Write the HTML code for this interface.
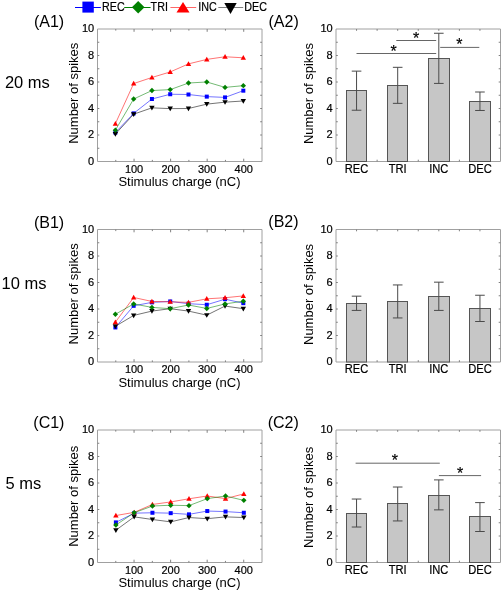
<!DOCTYPE html><html><head><meta charset="utf-8"><style>html,body{margin:0;padding:0;background:#fff;}svg{display:block;will-change:transform;}text{font-family:"Liberation Sans", sans-serif;fill:#000;} .b{stroke:#000;stroke-width:0.2px;}</style></head><body>
<svg width="502" height="591" viewBox="0 0 502 591">
<rect width="502" height="591" fill="#fff"/>
<line x1="75.0" y1="7.5" x2="100.9" y2="7.5" stroke="#0000ff" stroke-width="1"/>
<text x="0" y="0" font-size="12.2" text-anchor="start" transform="translate(102.10 10.90) scale(0.88 1)" class="b">REC</text>
<line x1="124.2" y1="7.5" x2="150.6" y2="7.5" stroke="#008000" stroke-width="1"/>
<text x="0" y="0" font-size="12.2" text-anchor="start" transform="translate(150.60 10.90) scale(0.88 1)" class="b">TRI</text>
<line x1="170.4" y1="7.5" x2="196.2" y2="7.5" stroke="#ff0000" stroke-width="0.6"/>
<text x="0" y="0" font-size="12.2" text-anchor="start" transform="translate(198.20 10.90) scale(0.88 1)" class="b">INC</text>
<line x1="218.3" y1="7.5" x2="243.2" y2="7.5" stroke="#000000" stroke-width="0.5"/>
<text x="0" y="0" font-size="12.2" text-anchor="start" transform="translate(244.30 10.90) scale(0.88 1)" class="b">DEC</text>
<rect x="82.4" y="1.6" width="11.4" height="11.0" fill="#0000ff"/>
<polygon points="138.2,0.9 144.5,7.2 138.2,13.5 131.9,7.2" fill="#008000"/>
<polygon points="183.0,1.9 189.5,12.6 176.5,12.6" fill="#ff0000"/>
<polygon points="224.3,3.1 236.7,3.1 230.5,14.1" fill="#000000"/>
<line x1="97.5" y1="29.0" x2="262.0" y2="29.0" stroke="#a0a0a0" stroke-width="1"/>
<line x1="262.0" y1="29.0" x2="262.0" y2="161.5" stroke="#a0a0a0" stroke-width="1"/>
<line x1="97.5" y1="161.5" x2="262.0" y2="161.5" stroke="#a0a0a0" stroke-width="1"/>
<line x1="97.5" y1="29.0" x2="97.5" y2="161.5" stroke="#a0a0a0" stroke-width="1"/>
<line x1="115.78" y1="161.5" x2="115.78" y2="159.9" stroke="#808080" stroke-width="1"/>
<line x1="115.78" y1="29.0" x2="115.78" y2="30.6" stroke="#808080" stroke-width="1"/>
<line x1="134.06" y1="161.5" x2="134.06" y2="158.7" stroke="#808080" stroke-width="1"/>
<line x1="134.06" y1="29.0" x2="134.06" y2="31.8" stroke="#808080" stroke-width="1"/>
<line x1="152.33" y1="161.5" x2="152.33" y2="159.9" stroke="#808080" stroke-width="1"/>
<line x1="152.33" y1="29.0" x2="152.33" y2="30.6" stroke="#808080" stroke-width="1"/>
<line x1="170.61" y1="161.5" x2="170.61" y2="158.7" stroke="#808080" stroke-width="1"/>
<line x1="170.61" y1="29.0" x2="170.61" y2="31.8" stroke="#808080" stroke-width="1"/>
<line x1="188.89" y1="161.5" x2="188.89" y2="159.9" stroke="#808080" stroke-width="1"/>
<line x1="188.89" y1="29.0" x2="188.89" y2="30.6" stroke="#808080" stroke-width="1"/>
<line x1="207.17" y1="161.5" x2="207.17" y2="158.7" stroke="#808080" stroke-width="1"/>
<line x1="207.17" y1="29.0" x2="207.17" y2="31.8" stroke="#808080" stroke-width="1"/>
<line x1="225.44" y1="161.5" x2="225.44" y2="159.9" stroke="#808080" stroke-width="1"/>
<line x1="225.44" y1="29.0" x2="225.44" y2="30.6" stroke="#808080" stroke-width="1"/>
<line x1="243.72" y1="161.5" x2="243.72" y2="158.7" stroke="#808080" stroke-width="1"/>
<line x1="243.72" y1="29.0" x2="243.72" y2="31.8" stroke="#808080" stroke-width="1"/>
<line x1="97.5" y1="148.25" x2="99.3" y2="148.25" stroke="#808080" stroke-width="1"/>
<line x1="262.0" y1="148.25" x2="260.2" y2="148.25" stroke="#808080" stroke-width="1"/>
<line x1="97.5" y1="135.00" x2="99.3" y2="135.00" stroke="#808080" stroke-width="1"/>
<line x1="262.0" y1="135.00" x2="260.2" y2="135.00" stroke="#808080" stroke-width="1"/>
<line x1="97.5" y1="121.75" x2="99.3" y2="121.75" stroke="#808080" stroke-width="1"/>
<line x1="262.0" y1="121.75" x2="260.2" y2="121.75" stroke="#808080" stroke-width="1"/>
<line x1="97.5" y1="108.50" x2="99.3" y2="108.50" stroke="#808080" stroke-width="1"/>
<line x1="262.0" y1="108.50" x2="260.2" y2="108.50" stroke="#808080" stroke-width="1"/>
<line x1="97.5" y1="95.25" x2="99.3" y2="95.25" stroke="#808080" stroke-width="1"/>
<line x1="262.0" y1="95.25" x2="260.2" y2="95.25" stroke="#808080" stroke-width="1"/>
<line x1="97.5" y1="82.00" x2="99.3" y2="82.00" stroke="#808080" stroke-width="1"/>
<line x1="262.0" y1="82.00" x2="260.2" y2="82.00" stroke="#808080" stroke-width="1"/>
<line x1="97.5" y1="68.75" x2="99.3" y2="68.75" stroke="#808080" stroke-width="1"/>
<line x1="262.0" y1="68.75" x2="260.2" y2="68.75" stroke="#808080" stroke-width="1"/>
<line x1="97.5" y1="55.50" x2="99.3" y2="55.50" stroke="#808080" stroke-width="1"/>
<line x1="262.0" y1="55.50" x2="260.2" y2="55.50" stroke="#808080" stroke-width="1"/>
<line x1="97.5" y1="42.25" x2="99.3" y2="42.25" stroke="#808080" stroke-width="1"/>
<line x1="262.0" y1="42.25" x2="260.2" y2="42.25" stroke="#808080" stroke-width="1"/>
<text x="94.20" y="164.80" font-size="11" text-anchor="end" class="b">0</text>
<text x="94.20" y="138.30" font-size="11" text-anchor="end" class="b">2</text>
<text x="94.20" y="111.80" font-size="11" text-anchor="end" class="b">4</text>
<text x="94.20" y="85.30" font-size="11" text-anchor="end" class="b">6</text>
<text x="94.20" y="58.80" font-size="11" text-anchor="end" class="b">8</text>
<text x="94.20" y="32.30" font-size="11" text-anchor="end" class="b">10</text>
<text x="134.06" y="172.90" font-size="11" text-anchor="middle" class="b">100</text>
<text x="170.61" y="172.90" font-size="11" text-anchor="middle" class="b">200</text>
<text x="207.17" y="172.90" font-size="11" text-anchor="middle" class="b">300</text>
<text x="243.72" y="172.90" font-size="11" text-anchor="middle" class="b">400</text>
<text x="179.50" y="186.30" font-size="13" text-anchor="middle" >Stimulus charge (nC)</text>
<text x="0" y="0" font-size="13" text-anchor="middle" transform="translate(78.0 93.25) rotate(-90) scale(1 1.03)">Number of spikes</text>
<polyline points="115.38,132.52 133.66,113.38 151.93,99.00 170.21,94.24 188.49,94.51 206.77,96.62 225.04,97.41 243.32,90.68" fill="none" stroke="#0000ff" stroke-width="0.55"/>
<rect x="113.38" y="130.52" width="4.00" height="4.00" fill="#0000ff"/>
<rect x="131.66" y="111.38" width="4.00" height="4.00" fill="#0000ff"/>
<rect x="149.93" y="97.00" width="4.00" height="4.00" fill="#0000ff"/>
<rect x="168.21" y="92.24" width="4.00" height="4.00" fill="#0000ff"/>
<rect x="186.49" y="92.51" width="4.00" height="4.00" fill="#0000ff"/>
<rect x="204.77" y="94.62" width="4.00" height="4.00" fill="#0000ff"/>
<rect x="223.04" y="95.41" width="4.00" height="4.00" fill="#0000ff"/>
<rect x="241.32" y="88.68" width="4.00" height="4.00" fill="#0000ff"/>
<polyline points="115.38,134.11 133.66,114.18 151.93,107.84 170.21,108.63 188.49,108.50 206.77,104.14 225.04,102.16 243.32,100.98" fill="none" stroke="#000000" stroke-width="0.55"/>
<polygon points="115.38,136.81 118.08,132.08 112.68,132.08" fill="#000000"/>
<polygon points="133.66,116.88 136.36,112.15 130.96,112.15" fill="#000000"/>
<polygon points="151.93,110.54 154.63,105.82 149.23,105.82" fill="#000000"/>
<polygon points="170.21,111.33 172.91,106.61 167.51,106.61" fill="#000000"/>
<polygon points="188.49,111.20 191.19,106.48 185.79,106.48" fill="#000000"/>
<polygon points="206.77,106.84 209.47,102.12 204.07,102.12" fill="#000000"/>
<polygon points="225.04,104.86 227.74,100.14 222.34,100.14" fill="#000000"/>
<polygon points="243.32,103.68 246.02,98.95 240.62,98.95" fill="#000000"/>
<polyline points="115.38,123.68 133.66,83.55 151.93,77.48 170.21,71.94 188.49,63.88 206.77,59.40 225.04,56.76 243.32,57.81" fill="none" stroke="#ff0000" stroke-width="0.55"/>
<polygon points="115.38,120.98 118.08,125.71 112.68,125.71" fill="#ff0000"/>
<polygon points="133.66,80.85 136.36,85.58 130.96,85.58" fill="#ff0000"/>
<polygon points="151.93,74.78 154.63,79.51 149.23,79.51" fill="#ff0000"/>
<polygon points="170.21,69.24 172.91,73.96 167.51,73.96" fill="#ff0000"/>
<polygon points="188.49,61.18 191.19,65.91 185.79,65.91" fill="#ff0000"/>
<polygon points="206.77,56.70 209.47,61.42 204.07,61.42" fill="#ff0000"/>
<polygon points="225.04,54.06 227.74,58.78 222.34,58.78" fill="#ff0000"/>
<polygon points="243.32,55.11 246.02,59.84 240.62,59.84" fill="#ff0000"/>
<polyline points="115.38,130.15 133.66,99.00 151.93,90.55 170.21,89.62 188.49,83.02 206.77,81.97 225.04,87.38 243.32,85.66" fill="none" stroke="#008000" stroke-width="0.55"/>
<polygon points="115.38,127.45 118.08,130.15 115.38,132.85 112.68,130.15" fill="#008000"/>
<polygon points="133.66,96.30 136.36,99.00 133.66,101.70 130.96,99.00" fill="#008000"/>
<polygon points="151.93,87.85 154.63,90.55 151.93,93.25 149.23,90.55" fill="#008000"/>
<polygon points="170.21,86.92 172.91,89.62 170.21,92.32 167.51,89.62" fill="#008000"/>
<polygon points="188.49,80.32 191.19,83.02 188.49,85.72 185.79,83.02" fill="#008000"/>
<polygon points="206.77,79.27 209.47,81.97 206.77,84.67 204.07,81.97" fill="#008000"/>
<polygon points="225.04,84.68 227.74,87.38 225.04,90.08 222.34,87.38" fill="#008000"/>
<polygon points="243.32,82.96 246.02,85.66 243.32,88.36 240.62,85.66" fill="#008000"/>
<line x1="336.0" y1="29.0" x2="500.5" y2="29.0" stroke="#a0a0a0" stroke-width="1"/>
<line x1="500.5" y1="29.0" x2="500.5" y2="161.5" stroke="#a0a0a0" stroke-width="1"/>
<line x1="336.0" y1="161.5" x2="500.5" y2="161.5" stroke="#a0a0a0" stroke-width="1"/>
<line x1="336.0" y1="29.0" x2="336.0" y2="161.5" stroke="#a0a0a0" stroke-width="1"/>
<line x1="356.56" y1="161.5" x2="356.56" y2="159.7" stroke="#808080" stroke-width="1"/>
<line x1="356.56" y1="29.0" x2="356.56" y2="30.8" stroke="#808080" stroke-width="1"/>
<line x1="377.12" y1="161.5" x2="377.12" y2="159.7" stroke="#808080" stroke-width="1"/>
<line x1="377.12" y1="29.0" x2="377.12" y2="30.8" stroke="#808080" stroke-width="1"/>
<line x1="397.69" y1="161.5" x2="397.69" y2="159.7" stroke="#808080" stroke-width="1"/>
<line x1="397.69" y1="29.0" x2="397.69" y2="30.8" stroke="#808080" stroke-width="1"/>
<line x1="418.25" y1="161.5" x2="418.25" y2="159.7" stroke="#808080" stroke-width="1"/>
<line x1="418.25" y1="29.0" x2="418.25" y2="30.8" stroke="#808080" stroke-width="1"/>
<line x1="438.81" y1="161.5" x2="438.81" y2="159.7" stroke="#808080" stroke-width="1"/>
<line x1="438.81" y1="29.0" x2="438.81" y2="30.8" stroke="#808080" stroke-width="1"/>
<line x1="459.38" y1="161.5" x2="459.38" y2="159.7" stroke="#808080" stroke-width="1"/>
<line x1="459.38" y1="29.0" x2="459.38" y2="30.8" stroke="#808080" stroke-width="1"/>
<line x1="479.94" y1="161.5" x2="479.94" y2="159.7" stroke="#808080" stroke-width="1"/>
<line x1="479.94" y1="29.0" x2="479.94" y2="30.8" stroke="#808080" stroke-width="1"/>
<line x1="336.0" y1="148.25" x2="337.8" y2="148.25" stroke="#808080" stroke-width="1"/>
<line x1="500.5" y1="148.25" x2="498.7" y2="148.25" stroke="#808080" stroke-width="1"/>
<line x1="336.0" y1="135.00" x2="337.8" y2="135.00" stroke="#808080" stroke-width="1"/>
<line x1="500.5" y1="135.00" x2="498.7" y2="135.00" stroke="#808080" stroke-width="1"/>
<line x1="336.0" y1="121.75" x2="337.8" y2="121.75" stroke="#808080" stroke-width="1"/>
<line x1="500.5" y1="121.75" x2="498.7" y2="121.75" stroke="#808080" stroke-width="1"/>
<line x1="336.0" y1="108.50" x2="337.8" y2="108.50" stroke="#808080" stroke-width="1"/>
<line x1="500.5" y1="108.50" x2="498.7" y2="108.50" stroke="#808080" stroke-width="1"/>
<line x1="336.0" y1="95.25" x2="337.8" y2="95.25" stroke="#808080" stroke-width="1"/>
<line x1="500.5" y1="95.25" x2="498.7" y2="95.25" stroke="#808080" stroke-width="1"/>
<line x1="336.0" y1="82.00" x2="337.8" y2="82.00" stroke="#808080" stroke-width="1"/>
<line x1="500.5" y1="82.00" x2="498.7" y2="82.00" stroke="#808080" stroke-width="1"/>
<line x1="336.0" y1="68.75" x2="337.8" y2="68.75" stroke="#808080" stroke-width="1"/>
<line x1="500.5" y1="68.75" x2="498.7" y2="68.75" stroke="#808080" stroke-width="1"/>
<line x1="336.0" y1="55.50" x2="337.8" y2="55.50" stroke="#808080" stroke-width="1"/>
<line x1="500.5" y1="55.50" x2="498.7" y2="55.50" stroke="#808080" stroke-width="1"/>
<line x1="336.0" y1="42.25" x2="337.8" y2="42.25" stroke="#808080" stroke-width="1"/>
<line x1="500.5" y1="42.25" x2="498.7" y2="42.25" stroke="#808080" stroke-width="1"/>
<text x="332.70" y="164.80" font-size="11" text-anchor="end" class="b">0</text>
<text x="332.70" y="138.30" font-size="11" text-anchor="end" class="b">2</text>
<text x="332.70" y="111.80" font-size="11" text-anchor="end" class="b">4</text>
<text x="332.70" y="85.30" font-size="11" text-anchor="end" class="b">6</text>
<text x="332.70" y="58.80" font-size="11" text-anchor="end" class="b">8</text>
<text x="332.70" y="32.30" font-size="11" text-anchor="end" class="b">10</text>
<text x="0" y="0" font-size="13" text-anchor="middle" transform="translate(313.2 93.55) rotate(-90) scale(1 1.03)">Number of spikes</text>
<rect x="346.50" y="90.50" width="20.00" height="71.00" fill="#c6c6c6" stroke="#555555" stroke-width="1"/>
<line x1="356.56" y1="110.22" x2="356.56" y2="71.14" stroke="#4a4a4a" stroke-width="1"/>
<line x1="351.76" y1="110.22" x2="361.36" y2="110.22" stroke="#4a4a4a" stroke-width="1"/>
<line x1="351.76" y1="71.14" x2="361.36" y2="71.14" stroke="#4a4a4a" stroke-width="1"/>
<text x="0" y="0" font-size="12.4" text-anchor="middle" transform="translate(356.56 172.90) scale(0.9 1)" class="b">REC</text>
<rect x="387.50" y="85.50" width="20.00" height="76.00" fill="#c6c6c6" stroke="#555555" stroke-width="1"/>
<line x1="397.69" y1="103.35" x2="397.69" y2="67.32" stroke="#4a4a4a" stroke-width="1"/>
<line x1="392.89" y1="103.35" x2="402.49" y2="103.35" stroke="#4a4a4a" stroke-width="1"/>
<line x1="392.89" y1="67.32" x2="402.49" y2="67.32" stroke="#4a4a4a" stroke-width="1"/>
<text x="0" y="0" font-size="12.4" text-anchor="middle" transform="translate(397.69 172.90) scale(0.9 1)" class="b">TRI</text>
<rect x="428.50" y="58.50" width="21.00" height="103.00" fill="#c6c6c6" stroke="#555555" stroke-width="1"/>
<line x1="438.81" y1="83.42" x2="438.81" y2="33.26" stroke="#4a4a4a" stroke-width="1"/>
<line x1="434.01" y1="83.42" x2="443.61" y2="83.42" stroke="#4a4a4a" stroke-width="1"/>
<line x1="434.01" y1="33.26" x2="443.61" y2="33.26" stroke="#4a4a4a" stroke-width="1"/>
<text x="0" y="0" font-size="12.4" text-anchor="middle" transform="translate(438.81 172.90) scale(0.9 1)" class="b">INC</text>
<rect x="469.50" y="101.50" width="21.00" height="60.00" fill="#c6c6c6" stroke="#555555" stroke-width="1"/>
<line x1="479.94" y1="110.48" x2="479.94" y2="92.00" stroke="#4a4a4a" stroke-width="1"/>
<line x1="475.14" y1="110.48" x2="484.74" y2="110.48" stroke="#4a4a4a" stroke-width="1"/>
<line x1="475.14" y1="92.00" x2="484.74" y2="92.00" stroke="#4a4a4a" stroke-width="1"/>
<text x="0" y="0" font-size="12.4" text-anchor="middle" transform="translate(479.94 172.90) scale(0.9 1)" class="b">DEC</text>
<line x1="356.5" y1="53.5" x2="436.2" y2="53.5" stroke="#666666" stroke-width="1"/>
<text x="393.70" y="56.50" font-size="16" text-anchor="middle" class="b">*</text>
<line x1="396.3" y1="40.5" x2="436.2" y2="40.5" stroke="#666666" stroke-width="1"/>
<text x="416.00" y="43.50" font-size="16" text-anchor="middle" class="b">*</text>
<line x1="440.2" y1="47.4" x2="479.3" y2="47.4" stroke="#666666" stroke-width="1"/>
<text x="459.40" y="50.40" font-size="16" text-anchor="middle" class="b">*</text>
<text x="33.90" y="27.00" font-size="16" text-anchor="start" >(A1)</text>
<text x="268.50" y="27.00" font-size="16" text-anchor="start" >(A2)</text>
<text x="4.90" y="87.95" font-size="16.5" text-anchor="start" >20 ms</text>
<line x1="97.5" y1="229.5" x2="262.0" y2="229.5" stroke="#a0a0a0" stroke-width="1"/>
<line x1="262.0" y1="229.5" x2="262.0" y2="362.0" stroke="#a0a0a0" stroke-width="1"/>
<line x1="97.5" y1="362.0" x2="262.0" y2="362.0" stroke="#a0a0a0" stroke-width="1"/>
<line x1="97.5" y1="229.5" x2="97.5" y2="362.0" stroke="#a0a0a0" stroke-width="1"/>
<line x1="115.78" y1="362.0" x2="115.78" y2="360.4" stroke="#808080" stroke-width="1"/>
<line x1="115.78" y1="229.5" x2="115.78" y2="231.1" stroke="#808080" stroke-width="1"/>
<line x1="134.06" y1="362.0" x2="134.06" y2="359.2" stroke="#808080" stroke-width="1"/>
<line x1="134.06" y1="229.5" x2="134.06" y2="232.3" stroke="#808080" stroke-width="1"/>
<line x1="152.33" y1="362.0" x2="152.33" y2="360.4" stroke="#808080" stroke-width="1"/>
<line x1="152.33" y1="229.5" x2="152.33" y2="231.1" stroke="#808080" stroke-width="1"/>
<line x1="170.61" y1="362.0" x2="170.61" y2="359.2" stroke="#808080" stroke-width="1"/>
<line x1="170.61" y1="229.5" x2="170.61" y2="232.3" stroke="#808080" stroke-width="1"/>
<line x1="188.89" y1="362.0" x2="188.89" y2="360.4" stroke="#808080" stroke-width="1"/>
<line x1="188.89" y1="229.5" x2="188.89" y2="231.1" stroke="#808080" stroke-width="1"/>
<line x1="207.17" y1="362.0" x2="207.17" y2="359.2" stroke="#808080" stroke-width="1"/>
<line x1="207.17" y1="229.5" x2="207.17" y2="232.3" stroke="#808080" stroke-width="1"/>
<line x1="225.44" y1="362.0" x2="225.44" y2="360.4" stroke="#808080" stroke-width="1"/>
<line x1="225.44" y1="229.5" x2="225.44" y2="231.1" stroke="#808080" stroke-width="1"/>
<line x1="243.72" y1="362.0" x2="243.72" y2="359.2" stroke="#808080" stroke-width="1"/>
<line x1="243.72" y1="229.5" x2="243.72" y2="232.3" stroke="#808080" stroke-width="1"/>
<line x1="97.5" y1="348.75" x2="99.3" y2="348.75" stroke="#808080" stroke-width="1"/>
<line x1="262.0" y1="348.75" x2="260.2" y2="348.75" stroke="#808080" stroke-width="1"/>
<line x1="97.5" y1="335.50" x2="99.3" y2="335.50" stroke="#808080" stroke-width="1"/>
<line x1="262.0" y1="335.50" x2="260.2" y2="335.50" stroke="#808080" stroke-width="1"/>
<line x1="97.5" y1="322.25" x2="99.3" y2="322.25" stroke="#808080" stroke-width="1"/>
<line x1="262.0" y1="322.25" x2="260.2" y2="322.25" stroke="#808080" stroke-width="1"/>
<line x1="97.5" y1="309.00" x2="99.3" y2="309.00" stroke="#808080" stroke-width="1"/>
<line x1="262.0" y1="309.00" x2="260.2" y2="309.00" stroke="#808080" stroke-width="1"/>
<line x1="97.5" y1="295.75" x2="99.3" y2="295.75" stroke="#808080" stroke-width="1"/>
<line x1="262.0" y1="295.75" x2="260.2" y2="295.75" stroke="#808080" stroke-width="1"/>
<line x1="97.5" y1="282.50" x2="99.3" y2="282.50" stroke="#808080" stroke-width="1"/>
<line x1="262.0" y1="282.50" x2="260.2" y2="282.50" stroke="#808080" stroke-width="1"/>
<line x1="97.5" y1="269.25" x2="99.3" y2="269.25" stroke="#808080" stroke-width="1"/>
<line x1="262.0" y1="269.25" x2="260.2" y2="269.25" stroke="#808080" stroke-width="1"/>
<line x1="97.5" y1="256.00" x2="99.3" y2="256.00" stroke="#808080" stroke-width="1"/>
<line x1="262.0" y1="256.00" x2="260.2" y2="256.00" stroke="#808080" stroke-width="1"/>
<line x1="97.5" y1="242.75" x2="99.3" y2="242.75" stroke="#808080" stroke-width="1"/>
<line x1="262.0" y1="242.75" x2="260.2" y2="242.75" stroke="#808080" stroke-width="1"/>
<text x="94.20" y="365.30" font-size="11" text-anchor="end" class="b">0</text>
<text x="94.20" y="338.80" font-size="11" text-anchor="end" class="b">2</text>
<text x="94.20" y="312.30" font-size="11" text-anchor="end" class="b">4</text>
<text x="94.20" y="285.80" font-size="11" text-anchor="end" class="b">6</text>
<text x="94.20" y="259.30" font-size="11" text-anchor="end" class="b">8</text>
<text x="94.20" y="232.80" font-size="11" text-anchor="end" class="b">10</text>
<text x="134.06" y="373.40" font-size="11" text-anchor="middle" class="b">100</text>
<text x="170.61" y="373.40" font-size="11" text-anchor="middle" class="b">200</text>
<text x="207.17" y="373.40" font-size="11" text-anchor="middle" class="b">300</text>
<text x="243.72" y="373.40" font-size="11" text-anchor="middle" class="b">400</text>
<text x="179.50" y="386.80" font-size="13" text-anchor="middle" >Stimulus charge (nC)</text>
<text x="0" y="0" font-size="13" text-anchor="middle" transform="translate(78.0 293.85) rotate(-90) scale(1 1.03)">Number of spikes</text>
<polyline points="115.38,327.44 133.66,305.80 151.93,302.36 170.21,301.44 188.49,303.68 206.77,304.74 225.04,299.20 243.32,303.16" fill="none" stroke="#0000ff" stroke-width="0.55"/>
<rect x="113.38" y="325.44" width="4.00" height="4.00" fill="#0000ff"/>
<rect x="131.66" y="303.80" width="4.00" height="4.00" fill="#0000ff"/>
<rect x="149.93" y="300.36" width="4.00" height="4.00" fill="#0000ff"/>
<rect x="168.21" y="299.44" width="4.00" height="4.00" fill="#0000ff"/>
<rect x="186.49" y="301.68" width="4.00" height="4.00" fill="#0000ff"/>
<rect x="204.77" y="302.74" width="4.00" height="4.00" fill="#0000ff"/>
<rect x="223.04" y="297.20" width="4.00" height="4.00" fill="#0000ff"/>
<rect x="241.32" y="301.16" width="4.00" height="4.00" fill="#0000ff"/>
<polyline points="115.38,326.26 133.66,315.43 151.93,311.08 170.21,308.70 188.49,311.08 206.77,315.17 225.04,306.06 243.32,308.70" fill="none" stroke="#000000" stroke-width="0.55"/>
<polygon points="115.38,328.96 118.08,324.23 112.68,324.23" fill="#000000"/>
<polygon points="133.66,318.13 136.36,313.41 130.96,313.41" fill="#000000"/>
<polygon points="151.93,313.78 154.63,309.05 149.23,309.05" fill="#000000"/>
<polygon points="170.21,311.40 172.91,306.68 167.51,306.68" fill="#000000"/>
<polygon points="188.49,313.78 191.19,309.05 185.79,309.05" fill="#000000"/>
<polygon points="206.77,317.87 209.47,313.14 204.07,313.14" fill="#000000"/>
<polygon points="225.04,308.76 227.74,304.04 222.34,304.04" fill="#000000"/>
<polygon points="243.32,311.40 246.02,306.68 240.62,306.68" fill="#000000"/>
<polyline points="115.38,322.16 133.66,297.48 151.93,301.44 170.21,301.84 188.49,302.36 206.77,298.80 225.04,297.74 243.32,295.90" fill="none" stroke="#ff0000" stroke-width="0.55"/>
<polygon points="115.38,319.46 118.08,324.19 112.68,324.19" fill="#ff0000"/>
<polygon points="133.66,294.78 136.36,299.50 130.96,299.50" fill="#ff0000"/>
<polygon points="151.93,298.74 154.63,303.46 149.23,303.46" fill="#ff0000"/>
<polygon points="170.21,299.14 172.91,303.86 167.51,303.86" fill="#ff0000"/>
<polygon points="188.49,299.66 191.19,304.39 185.79,304.39" fill="#ff0000"/>
<polygon points="206.77,296.10 209.47,300.82 204.07,300.82" fill="#ff0000"/>
<polygon points="225.04,295.04 227.74,299.77 222.34,299.77" fill="#ff0000"/>
<polygon points="243.32,293.20 246.02,297.92 240.62,297.92" fill="#ff0000"/>
<polyline points="115.38,314.24 133.66,303.95 151.93,307.38 170.21,308.70 188.49,305.00 206.77,308.44 225.04,303.95 243.32,301.18" fill="none" stroke="#008000" stroke-width="0.55"/>
<polygon points="115.38,311.54 118.08,314.24 115.38,316.94 112.68,314.24" fill="#008000"/>
<polygon points="133.66,301.25 136.36,303.95 133.66,306.65 130.96,303.95" fill="#008000"/>
<polygon points="151.93,304.68 154.63,307.38 151.93,310.08 149.23,307.38" fill="#008000"/>
<polygon points="170.21,306.00 172.91,308.70 170.21,311.40 167.51,308.70" fill="#008000"/>
<polygon points="188.49,302.30 191.19,305.00 188.49,307.70 185.79,305.00" fill="#008000"/>
<polygon points="206.77,305.74 209.47,308.44 206.77,311.14 204.07,308.44" fill="#008000"/>
<polygon points="225.04,301.25 227.74,303.95 225.04,306.65 222.34,303.95" fill="#008000"/>
<polygon points="243.32,298.48 246.02,301.18 243.32,303.88 240.62,301.18" fill="#008000"/>
<line x1="336.0" y1="229.5" x2="500.5" y2="229.5" stroke="#a0a0a0" stroke-width="1"/>
<line x1="500.5" y1="229.5" x2="500.5" y2="362.0" stroke="#a0a0a0" stroke-width="1"/>
<line x1="336.0" y1="362.0" x2="500.5" y2="362.0" stroke="#a0a0a0" stroke-width="1"/>
<line x1="336.0" y1="229.5" x2="336.0" y2="362.0" stroke="#a0a0a0" stroke-width="1"/>
<line x1="356.56" y1="362.0" x2="356.56" y2="360.2" stroke="#808080" stroke-width="1"/>
<line x1="356.56" y1="229.5" x2="356.56" y2="231.3" stroke="#808080" stroke-width="1"/>
<line x1="377.12" y1="362.0" x2="377.12" y2="360.2" stroke="#808080" stroke-width="1"/>
<line x1="377.12" y1="229.5" x2="377.12" y2="231.3" stroke="#808080" stroke-width="1"/>
<line x1="397.69" y1="362.0" x2="397.69" y2="360.2" stroke="#808080" stroke-width="1"/>
<line x1="397.69" y1="229.5" x2="397.69" y2="231.3" stroke="#808080" stroke-width="1"/>
<line x1="418.25" y1="362.0" x2="418.25" y2="360.2" stroke="#808080" stroke-width="1"/>
<line x1="418.25" y1="229.5" x2="418.25" y2="231.3" stroke="#808080" stroke-width="1"/>
<line x1="438.81" y1="362.0" x2="438.81" y2="360.2" stroke="#808080" stroke-width="1"/>
<line x1="438.81" y1="229.5" x2="438.81" y2="231.3" stroke="#808080" stroke-width="1"/>
<line x1="459.38" y1="362.0" x2="459.38" y2="360.2" stroke="#808080" stroke-width="1"/>
<line x1="459.38" y1="229.5" x2="459.38" y2="231.3" stroke="#808080" stroke-width="1"/>
<line x1="479.94" y1="362.0" x2="479.94" y2="360.2" stroke="#808080" stroke-width="1"/>
<line x1="479.94" y1="229.5" x2="479.94" y2="231.3" stroke="#808080" stroke-width="1"/>
<line x1="336.0" y1="348.75" x2="337.8" y2="348.75" stroke="#808080" stroke-width="1"/>
<line x1="500.5" y1="348.75" x2="498.7" y2="348.75" stroke="#808080" stroke-width="1"/>
<line x1="336.0" y1="335.50" x2="337.8" y2="335.50" stroke="#808080" stroke-width="1"/>
<line x1="500.5" y1="335.50" x2="498.7" y2="335.50" stroke="#808080" stroke-width="1"/>
<line x1="336.0" y1="322.25" x2="337.8" y2="322.25" stroke="#808080" stroke-width="1"/>
<line x1="500.5" y1="322.25" x2="498.7" y2="322.25" stroke="#808080" stroke-width="1"/>
<line x1="336.0" y1="309.00" x2="337.8" y2="309.00" stroke="#808080" stroke-width="1"/>
<line x1="500.5" y1="309.00" x2="498.7" y2="309.00" stroke="#808080" stroke-width="1"/>
<line x1="336.0" y1="295.75" x2="337.8" y2="295.75" stroke="#808080" stroke-width="1"/>
<line x1="500.5" y1="295.75" x2="498.7" y2="295.75" stroke="#808080" stroke-width="1"/>
<line x1="336.0" y1="282.50" x2="337.8" y2="282.50" stroke="#808080" stroke-width="1"/>
<line x1="500.5" y1="282.50" x2="498.7" y2="282.50" stroke="#808080" stroke-width="1"/>
<line x1="336.0" y1="269.25" x2="337.8" y2="269.25" stroke="#808080" stroke-width="1"/>
<line x1="500.5" y1="269.25" x2="498.7" y2="269.25" stroke="#808080" stroke-width="1"/>
<line x1="336.0" y1="256.00" x2="337.8" y2="256.00" stroke="#808080" stroke-width="1"/>
<line x1="500.5" y1="256.00" x2="498.7" y2="256.00" stroke="#808080" stroke-width="1"/>
<line x1="336.0" y1="242.75" x2="337.8" y2="242.75" stroke="#808080" stroke-width="1"/>
<line x1="500.5" y1="242.75" x2="498.7" y2="242.75" stroke="#808080" stroke-width="1"/>
<text x="332.70" y="365.30" font-size="11" text-anchor="end" class="b">0</text>
<text x="332.70" y="338.80" font-size="11" text-anchor="end" class="b">2</text>
<text x="332.70" y="312.30" font-size="11" text-anchor="end" class="b">4</text>
<text x="332.70" y="285.80" font-size="11" text-anchor="end" class="b">6</text>
<text x="332.70" y="259.30" font-size="11" text-anchor="end" class="b">8</text>
<text x="332.70" y="232.80" font-size="11" text-anchor="end" class="b">10</text>
<text x="0" y="0" font-size="13" text-anchor="middle" transform="translate(313.2 294.45) rotate(-90) scale(1 1.03)">Number of spikes</text>
<rect x="346.50" y="303.50" width="20.00" height="58.50" fill="#c6c6c6" stroke="#555555" stroke-width="1"/>
<line x1="356.56" y1="310.42" x2="356.56" y2="296.16" stroke="#4a4a4a" stroke-width="1"/>
<line x1="351.76" y1="310.42" x2="361.36" y2="310.42" stroke="#4a4a4a" stroke-width="1"/>
<line x1="351.76" y1="296.16" x2="361.36" y2="296.16" stroke="#4a4a4a" stroke-width="1"/>
<text x="0" y="0" font-size="12.4" text-anchor="middle" transform="translate(356.56 373.40) scale(0.9 1)" class="b">REC</text>
<rect x="387.50" y="301.50" width="20.00" height="60.50" fill="#c6c6c6" stroke="#555555" stroke-width="1"/>
<line x1="397.69" y1="317.94" x2="397.69" y2="284.94" stroke="#4a4a4a" stroke-width="1"/>
<line x1="392.89" y1="317.94" x2="402.49" y2="317.94" stroke="#4a4a4a" stroke-width="1"/>
<line x1="392.89" y1="284.94" x2="402.49" y2="284.94" stroke="#4a4a4a" stroke-width="1"/>
<text x="0" y="0" font-size="12.4" text-anchor="middle" transform="translate(397.69 373.40) scale(0.9 1)" class="b">TRI</text>
<rect x="428.50" y="296.50" width="21.00" height="65.50" fill="#c6c6c6" stroke="#555555" stroke-width="1"/>
<line x1="438.81" y1="310.42" x2="438.81" y2="282.17" stroke="#4a4a4a" stroke-width="1"/>
<line x1="434.01" y1="310.42" x2="443.61" y2="310.42" stroke="#4a4a4a" stroke-width="1"/>
<line x1="434.01" y1="282.17" x2="443.61" y2="282.17" stroke="#4a4a4a" stroke-width="1"/>
<text x="0" y="0" font-size="12.4" text-anchor="middle" transform="translate(438.81 373.40) scale(0.9 1)" class="b">INC</text>
<rect x="469.50" y="308.50" width="21.00" height="53.50" fill="#c6c6c6" stroke="#555555" stroke-width="1"/>
<line x1="479.94" y1="321.50" x2="479.94" y2="295.24" stroke="#4a4a4a" stroke-width="1"/>
<line x1="475.14" y1="321.50" x2="484.74" y2="321.50" stroke="#4a4a4a" stroke-width="1"/>
<line x1="475.14" y1="295.24" x2="484.74" y2="295.24" stroke="#4a4a4a" stroke-width="1"/>
<text x="0" y="0" font-size="12.4" text-anchor="middle" transform="translate(479.94 373.40) scale(0.9 1)" class="b">DEC</text>
<text x="33.90" y="227.50" font-size="16" text-anchor="start" >(B1)</text>
<text x="268.30" y="226.80" font-size="16" text-anchor="start" >(B2)</text>
<text x="1.50" y="288.75" font-size="16.5" text-anchor="start" >10 ms</text>
<line x1="97.5" y1="430.0" x2="262.0" y2="430.0" stroke="#a0a0a0" stroke-width="1"/>
<line x1="262.0" y1="430.0" x2="262.0" y2="562.5" stroke="#a0a0a0" stroke-width="1"/>
<line x1="97.5" y1="562.5" x2="262.0" y2="562.5" stroke="#a0a0a0" stroke-width="1"/>
<line x1="97.5" y1="430.0" x2="97.5" y2="562.5" stroke="#a0a0a0" stroke-width="1"/>
<line x1="115.78" y1="562.5" x2="115.78" y2="560.9" stroke="#808080" stroke-width="1"/>
<line x1="115.78" y1="430.0" x2="115.78" y2="431.6" stroke="#808080" stroke-width="1"/>
<line x1="134.06" y1="562.5" x2="134.06" y2="559.7" stroke="#808080" stroke-width="1"/>
<line x1="134.06" y1="430.0" x2="134.06" y2="432.8" stroke="#808080" stroke-width="1"/>
<line x1="152.33" y1="562.5" x2="152.33" y2="560.9" stroke="#808080" stroke-width="1"/>
<line x1="152.33" y1="430.0" x2="152.33" y2="431.6" stroke="#808080" stroke-width="1"/>
<line x1="170.61" y1="562.5" x2="170.61" y2="559.7" stroke="#808080" stroke-width="1"/>
<line x1="170.61" y1="430.0" x2="170.61" y2="432.8" stroke="#808080" stroke-width="1"/>
<line x1="188.89" y1="562.5" x2="188.89" y2="560.9" stroke="#808080" stroke-width="1"/>
<line x1="188.89" y1="430.0" x2="188.89" y2="431.6" stroke="#808080" stroke-width="1"/>
<line x1="207.17" y1="562.5" x2="207.17" y2="559.7" stroke="#808080" stroke-width="1"/>
<line x1="207.17" y1="430.0" x2="207.17" y2="432.8" stroke="#808080" stroke-width="1"/>
<line x1="225.44" y1="562.5" x2="225.44" y2="560.9" stroke="#808080" stroke-width="1"/>
<line x1="225.44" y1="430.0" x2="225.44" y2="431.6" stroke="#808080" stroke-width="1"/>
<line x1="243.72" y1="562.5" x2="243.72" y2="559.7" stroke="#808080" stroke-width="1"/>
<line x1="243.72" y1="430.0" x2="243.72" y2="432.8" stroke="#808080" stroke-width="1"/>
<line x1="97.5" y1="549.25" x2="99.3" y2="549.25" stroke="#808080" stroke-width="1"/>
<line x1="262.0" y1="549.25" x2="260.2" y2="549.25" stroke="#808080" stroke-width="1"/>
<line x1="97.5" y1="536.00" x2="99.3" y2="536.00" stroke="#808080" stroke-width="1"/>
<line x1="262.0" y1="536.00" x2="260.2" y2="536.00" stroke="#808080" stroke-width="1"/>
<line x1="97.5" y1="522.75" x2="99.3" y2="522.75" stroke="#808080" stroke-width="1"/>
<line x1="262.0" y1="522.75" x2="260.2" y2="522.75" stroke="#808080" stroke-width="1"/>
<line x1="97.5" y1="509.50" x2="99.3" y2="509.50" stroke="#808080" stroke-width="1"/>
<line x1="262.0" y1="509.50" x2="260.2" y2="509.50" stroke="#808080" stroke-width="1"/>
<line x1="97.5" y1="496.25" x2="99.3" y2="496.25" stroke="#808080" stroke-width="1"/>
<line x1="262.0" y1="496.25" x2="260.2" y2="496.25" stroke="#808080" stroke-width="1"/>
<line x1="97.5" y1="483.00" x2="99.3" y2="483.00" stroke="#808080" stroke-width="1"/>
<line x1="262.0" y1="483.00" x2="260.2" y2="483.00" stroke="#808080" stroke-width="1"/>
<line x1="97.5" y1="469.75" x2="99.3" y2="469.75" stroke="#808080" stroke-width="1"/>
<line x1="262.0" y1="469.75" x2="260.2" y2="469.75" stroke="#808080" stroke-width="1"/>
<line x1="97.5" y1="456.50" x2="99.3" y2="456.50" stroke="#808080" stroke-width="1"/>
<line x1="262.0" y1="456.50" x2="260.2" y2="456.50" stroke="#808080" stroke-width="1"/>
<line x1="97.5" y1="443.25" x2="99.3" y2="443.25" stroke="#808080" stroke-width="1"/>
<line x1="262.0" y1="443.25" x2="260.2" y2="443.25" stroke="#808080" stroke-width="1"/>
<text x="94.20" y="565.80" font-size="11" text-anchor="end" class="b">0</text>
<text x="94.20" y="539.30" font-size="11" text-anchor="end" class="b">2</text>
<text x="94.20" y="512.80" font-size="11" text-anchor="end" class="b">4</text>
<text x="94.20" y="486.30" font-size="11" text-anchor="end" class="b">6</text>
<text x="94.20" y="459.80" font-size="11" text-anchor="end" class="b">8</text>
<text x="94.20" y="433.30" font-size="11" text-anchor="end" class="b">10</text>
<text x="134.06" y="573.90" font-size="11" text-anchor="middle" class="b">100</text>
<text x="170.61" y="573.90" font-size="11" text-anchor="middle" class="b">200</text>
<text x="207.17" y="573.90" font-size="11" text-anchor="middle" class="b">300</text>
<text x="243.72" y="573.90" font-size="11" text-anchor="middle" class="b">400</text>
<text x="179.50" y="587.30" font-size="13" text-anchor="middle" >Stimulus charge (nC)</text>
<text x="0" y="0" font-size="13" text-anchor="middle" transform="translate(78.0 496.25) rotate(-90) scale(1 1.03)">Number of spikes</text>
<polyline points="115.88,522.40 134.16,513.16 152.43,512.76 170.71,513.16 188.99,514.35 207.27,511.05 225.54,511.58 243.82,512.76" fill="none" stroke="#0000ff" stroke-width="0.55"/>
<rect x="113.88" y="520.40" width="4.00" height="4.00" fill="#0000ff"/>
<rect x="132.16" y="511.16" width="4.00" height="4.00" fill="#0000ff"/>
<rect x="150.43" y="510.76" width="4.00" height="4.00" fill="#0000ff"/>
<rect x="168.71" y="511.16" width="4.00" height="4.00" fill="#0000ff"/>
<rect x="186.99" y="512.35" width="4.00" height="4.00" fill="#0000ff"/>
<rect x="205.27" y="509.05" width="4.00" height="4.00" fill="#0000ff"/>
<rect x="223.54" y="509.58" width="4.00" height="4.00" fill="#0000ff"/>
<rect x="241.82" y="510.76" width="4.00" height="4.00" fill="#0000ff"/>
<polyline points="115.88,530.19 134.16,516.86 152.43,519.50 170.71,521.87 188.99,517.52 207.27,518.70 225.54,516.86 243.82,517.52" fill="none" stroke="#000000" stroke-width="0.55"/>
<polygon points="115.88,532.89 118.58,528.16 113.18,528.16" fill="#000000"/>
<polygon points="134.16,519.56 136.86,514.83 131.46,514.83" fill="#000000"/>
<polygon points="152.43,522.20 155.13,517.47 149.73,517.47" fill="#000000"/>
<polygon points="170.71,524.57 173.41,519.85 168.01,519.85" fill="#000000"/>
<polygon points="188.99,520.22 191.69,515.49 186.29,515.49" fill="#000000"/>
<polygon points="207.27,521.40 209.97,516.68 204.57,516.68" fill="#000000"/>
<polygon points="225.54,519.56 228.24,514.83 222.84,514.83" fill="#000000"/>
<polygon points="243.82,520.22 246.52,515.49 241.12,515.49" fill="#000000"/>
<polyline points="115.88,515.54 134.16,512.37 152.43,504.45 170.71,501.94 188.99,498.77 207.27,495.99 225.54,498.63 243.82,493.87" fill="none" stroke="#ff0000" stroke-width="0.55"/>
<polygon points="115.88,512.84 118.58,517.56 113.18,517.56" fill="#ff0000"/>
<polygon points="134.16,509.67 136.86,514.39 131.46,514.39" fill="#ff0000"/>
<polygon points="152.43,501.75 155.13,506.47 149.73,506.47" fill="#ff0000"/>
<polygon points="170.71,499.24 173.41,503.96 168.01,503.96" fill="#ff0000"/>
<polygon points="188.99,496.07 191.69,500.80 186.29,500.80" fill="#ff0000"/>
<polygon points="207.27,493.29 209.97,498.01 204.57,498.01" fill="#ff0000"/>
<polygon points="225.54,495.94 228.24,500.66 222.84,500.66" fill="#ff0000"/>
<polygon points="243.82,491.17 246.52,495.89 241.12,495.89" fill="#ff0000"/>
<polyline points="115.88,525.04 134.16,512.76 152.43,506.03 170.71,505.24 188.99,505.64 207.27,498.63 225.54,495.99 243.82,500.36" fill="none" stroke="#008000" stroke-width="0.55"/>
<polygon points="115.88,522.34 118.58,525.04 115.88,527.74 113.18,525.04" fill="#008000"/>
<polygon points="134.16,510.06 136.86,512.76 134.16,515.46 131.46,512.76" fill="#008000"/>
<polygon points="152.43,503.33 155.13,506.03 152.43,508.73 149.73,506.03" fill="#008000"/>
<polygon points="170.71,502.54 173.41,505.24 170.71,507.94 168.01,505.24" fill="#008000"/>
<polygon points="188.99,502.94 191.69,505.64 188.99,508.34 186.29,505.64" fill="#008000"/>
<polygon points="207.27,495.94 209.97,498.63 207.27,501.33 204.57,498.63" fill="#008000"/>
<polygon points="225.54,493.29 228.24,495.99 225.54,498.69 222.84,495.99" fill="#008000"/>
<polygon points="243.82,497.66 246.52,500.36 243.82,503.06 241.12,500.36" fill="#008000"/>
<line x1="336.0" y1="430.0" x2="500.5" y2="430.0" stroke="#a0a0a0" stroke-width="1"/>
<line x1="500.5" y1="430.0" x2="500.5" y2="562.5" stroke="#a0a0a0" stroke-width="1"/>
<line x1="336.0" y1="562.5" x2="500.5" y2="562.5" stroke="#a0a0a0" stroke-width="1"/>
<line x1="336.0" y1="430.0" x2="336.0" y2="562.5" stroke="#a0a0a0" stroke-width="1"/>
<line x1="356.56" y1="562.5" x2="356.56" y2="560.7" stroke="#808080" stroke-width="1"/>
<line x1="356.56" y1="430.0" x2="356.56" y2="431.8" stroke="#808080" stroke-width="1"/>
<line x1="377.12" y1="562.5" x2="377.12" y2="560.7" stroke="#808080" stroke-width="1"/>
<line x1="377.12" y1="430.0" x2="377.12" y2="431.8" stroke="#808080" stroke-width="1"/>
<line x1="397.69" y1="562.5" x2="397.69" y2="560.7" stroke="#808080" stroke-width="1"/>
<line x1="397.69" y1="430.0" x2="397.69" y2="431.8" stroke="#808080" stroke-width="1"/>
<line x1="418.25" y1="562.5" x2="418.25" y2="560.7" stroke="#808080" stroke-width="1"/>
<line x1="418.25" y1="430.0" x2="418.25" y2="431.8" stroke="#808080" stroke-width="1"/>
<line x1="438.81" y1="562.5" x2="438.81" y2="560.7" stroke="#808080" stroke-width="1"/>
<line x1="438.81" y1="430.0" x2="438.81" y2="431.8" stroke="#808080" stroke-width="1"/>
<line x1="459.38" y1="562.5" x2="459.38" y2="560.7" stroke="#808080" stroke-width="1"/>
<line x1="459.38" y1="430.0" x2="459.38" y2="431.8" stroke="#808080" stroke-width="1"/>
<line x1="479.94" y1="562.5" x2="479.94" y2="560.7" stroke="#808080" stroke-width="1"/>
<line x1="479.94" y1="430.0" x2="479.94" y2="431.8" stroke="#808080" stroke-width="1"/>
<line x1="336.0" y1="549.25" x2="337.8" y2="549.25" stroke="#808080" stroke-width="1"/>
<line x1="500.5" y1="549.25" x2="498.7" y2="549.25" stroke="#808080" stroke-width="1"/>
<line x1="336.0" y1="536.00" x2="337.8" y2="536.00" stroke="#808080" stroke-width="1"/>
<line x1="500.5" y1="536.00" x2="498.7" y2="536.00" stroke="#808080" stroke-width="1"/>
<line x1="336.0" y1="522.75" x2="337.8" y2="522.75" stroke="#808080" stroke-width="1"/>
<line x1="500.5" y1="522.75" x2="498.7" y2="522.75" stroke="#808080" stroke-width="1"/>
<line x1="336.0" y1="509.50" x2="337.8" y2="509.50" stroke="#808080" stroke-width="1"/>
<line x1="500.5" y1="509.50" x2="498.7" y2="509.50" stroke="#808080" stroke-width="1"/>
<line x1="336.0" y1="496.25" x2="337.8" y2="496.25" stroke="#808080" stroke-width="1"/>
<line x1="500.5" y1="496.25" x2="498.7" y2="496.25" stroke="#808080" stroke-width="1"/>
<line x1="336.0" y1="483.00" x2="337.8" y2="483.00" stroke="#808080" stroke-width="1"/>
<line x1="500.5" y1="483.00" x2="498.7" y2="483.00" stroke="#808080" stroke-width="1"/>
<line x1="336.0" y1="469.75" x2="337.8" y2="469.75" stroke="#808080" stroke-width="1"/>
<line x1="500.5" y1="469.75" x2="498.7" y2="469.75" stroke="#808080" stroke-width="1"/>
<line x1="336.0" y1="456.50" x2="337.8" y2="456.50" stroke="#808080" stroke-width="1"/>
<line x1="500.5" y1="456.50" x2="498.7" y2="456.50" stroke="#808080" stroke-width="1"/>
<line x1="336.0" y1="443.25" x2="337.8" y2="443.25" stroke="#808080" stroke-width="1"/>
<line x1="500.5" y1="443.25" x2="498.7" y2="443.25" stroke="#808080" stroke-width="1"/>
<text x="332.70" y="565.80" font-size="11" text-anchor="end" class="b">0</text>
<text x="332.70" y="539.30" font-size="11" text-anchor="end" class="b">2</text>
<text x="332.70" y="512.80" font-size="11" text-anchor="end" class="b">4</text>
<text x="332.70" y="486.30" font-size="11" text-anchor="end" class="b">6</text>
<text x="332.70" y="459.80" font-size="11" text-anchor="end" class="b">8</text>
<text x="332.70" y="433.30" font-size="11" text-anchor="end" class="b">10</text>
<text x="0" y="0" font-size="13" text-anchor="middle" transform="translate(313.2 497.35) rotate(-90) scale(1 1.03)">Number of spikes</text>
<rect x="346.50" y="513.50" width="20.00" height="49.00" fill="#c6c6c6" stroke="#555555" stroke-width="1"/>
<line x1="356.56" y1="527.02" x2="356.56" y2="499.04" stroke="#4a4a4a" stroke-width="1"/>
<line x1="351.76" y1="527.02" x2="361.36" y2="527.02" stroke="#4a4a4a" stroke-width="1"/>
<line x1="351.76" y1="499.04" x2="361.36" y2="499.04" stroke="#4a4a4a" stroke-width="1"/>
<text x="0" y="0" font-size="12.4" text-anchor="middle" transform="translate(356.56 573.90) scale(0.9 1)" class="b">REC</text>
<rect x="387.50" y="503.50" width="20.00" height="59.00" fill="#c6c6c6" stroke="#555555" stroke-width="1"/>
<line x1="397.69" y1="520.95" x2="397.69" y2="487.02" stroke="#4a4a4a" stroke-width="1"/>
<line x1="392.89" y1="520.95" x2="402.49" y2="520.95" stroke="#4a4a4a" stroke-width="1"/>
<line x1="392.89" y1="487.02" x2="402.49" y2="487.02" stroke="#4a4a4a" stroke-width="1"/>
<text x="0" y="0" font-size="12.4" text-anchor="middle" transform="translate(397.69 573.90) scale(0.9 1)" class="b">TRI</text>
<rect x="428.50" y="495.50" width="21.00" height="67.00" fill="#c6c6c6" stroke="#555555" stroke-width="1"/>
<line x1="438.81" y1="509.86" x2="438.81" y2="479.90" stroke="#4a4a4a" stroke-width="1"/>
<line x1="434.01" y1="509.86" x2="443.61" y2="509.86" stroke="#4a4a4a" stroke-width="1"/>
<line x1="434.01" y1="479.90" x2="443.61" y2="479.90" stroke="#4a4a4a" stroke-width="1"/>
<text x="0" y="0" font-size="12.4" text-anchor="middle" transform="translate(438.81 573.90) scale(0.9 1)" class="b">INC</text>
<rect x="469.50" y="516.50" width="21.00" height="46.00" fill="#c6c6c6" stroke="#555555" stroke-width="1"/>
<line x1="479.94" y1="531.51" x2="479.94" y2="502.60" stroke="#4a4a4a" stroke-width="1"/>
<line x1="475.14" y1="531.51" x2="484.74" y2="531.51" stroke="#4a4a4a" stroke-width="1"/>
<line x1="475.14" y1="502.60" x2="484.74" y2="502.60" stroke="#4a4a4a" stroke-width="1"/>
<text x="0" y="0" font-size="12.4" text-anchor="middle" transform="translate(479.94 573.90) scale(0.9 1)" class="b">DEC</text>
<line x1="355.6" y1="463.2" x2="439.8" y2="463.2" stroke="#666666" stroke-width="1"/>
<text x="394.80" y="466.20" font-size="16" text-anchor="middle" class="b">*</text>
<line x1="438.9" y1="475.6" x2="481.1" y2="475.6" stroke="#666666" stroke-width="1"/>
<text x="460.10" y="478.60" font-size="16" text-anchor="middle" class="b">*</text>
<text x="33.30" y="428.00" font-size="16" text-anchor="start" >(C1)</text>
<text x="267.70" y="428.00" font-size="16" text-anchor="start" >(C2)</text>
<text x="5.50" y="489.25" font-size="16.5" text-anchor="start" >5 ms</text>
</svg></body></html>
